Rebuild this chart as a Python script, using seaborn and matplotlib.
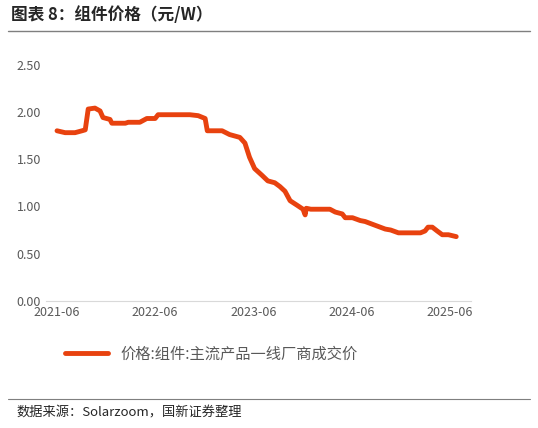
import pandas as pd
import matplotlib
matplotlib.use("Agg")
import matplotlib.pyplot as plt
import seaborn as sns

sns.set_style("white")
plt.rcParams['font.family'] = ['Noto Sans CJK SC', 'DejaVu Sans']

# 组件价格 (元/W)
dates = ["2021-06-01", "2021-07-01", "2021-08-07", "2021-09-02", "2021-09-14", "2021-09-25",
         "2021-10-20", "2021-11-08", "2021-11-19", "2021-12-15", "2021-12-22", "2022-02-10",
         "2022-02-21", "2022-04-05", "2022-05-01", "2022-06-01", "2022-06-12", "2022-10-08",
         "2022-11-08", "2022-12-04", "2022-12-12", "2023-02-05", "2023-03-05", "2023-04-12",
         "2023-05-01", "2023-05-18", "2023-06-06", "2023-07-03", "2023-07-25", "2023-08-20",
         "2023-09-08", "2023-09-27", "2023-10-16", "2023-11-12", "2023-12-03", "2023-12-11",
         "2023-12-15", "2024-01-01", "2024-03-12", "2024-04-01", "2024-04-27", "2024-05-08",
         "2024-06-04", "2024-07-03", "2024-07-21", "2024-08-18", "2024-10-04", "2024-10-24",
         "2024-11-22", "2025-02-12", "2025-03-01", "2025-03-12", "2025-03-28", "2025-04-15",
         "2025-05-04", "2025-05-27", "2025-06-25"]
price = [1.80, 1.78, 1.78, 1.80, 1.81, 2.03,
         2.04, 2.01, 1.94, 1.92, 1.88, 1.88,
         1.89, 1.89, 1.93, 1.93, 1.97, 1.97,
         1.96, 1.93, 1.80, 1.80, 1.76, 1.73,
         1.67, 1.52, 1.40, 1.33, 1.27, 1.25,
         1.21, 1.16, 1.06, 1.01, 0.97, 0.91,
         0.98, 0.97, 0.97, 0.94, 0.92, 0.88,
         0.88, 0.85, 0.84, 0.81, 0.76, 0.75,
         0.72, 0.72, 0.74, 0.78, 0.78, 0.74,
         0.70, 0.70, 0.68]
serie = "价格:组件:主流产品一线厂商成交价"

df = pd.DataFrame({"fecha": pd.to_datetime(dates), "precio": price})

fig = plt.figure(figsize=(5.38, 4.28), dpi=100)
ax = fig.add_axes([0.085, 0.297, 0.79, 0.552])
sns.lineplot(data=df, x="fecha", y="precio", ax=ax, color="#E8420F", linewidth=3.5, label=serie)

ax.set_ylim(0, 2.5)
ax.set_yticks([0, 0.5, 1.0, 1.5, 2.0, 2.5])
ax.set_yticklabels([f"{v:.2f}" for v in ax.get_yticks()])
ticks = pd.to_datetime(["2021-06-01", "2022-06-01", "2023-06-01", "2024-06-01", "2025-06-01"])
ax.set_xticks(ticks)
ax.set_xticklabels([t.strftime("%Y-%m") for t in ticks])
ax.set_xlim(pd.Timestamp("2021-04-20"), pd.Timestamp("2025-08-18"))
ax.set_xlabel("")
ax.set_ylabel("")
ax.tick_params(axis="both", labelsize=9, colors="#595959", length=0)
ax.spines[['top', 'right', 'left']].set_visible(False)
ax.spines['bottom'].set_color("#D9D9D9")
ax.legend(loc="upper center", bbox_to_anchor=(0.39, -0.13), frameon=False,
          fontsize=11, handlelength=2.8, labelcolor="#595959")

fig.text(0.02, 0.965, "图表 8：组件价格（元/W）", fontsize=12, fontweight="bold", va="center")
fig.add_artist(plt.Line2D([0.015, 0.985], [0.928, 0.928], color="#7F7F7F", linewidth=1))
fig.add_artist(plt.Line2D([0.015, 0.985], [0.068, 0.068], color="#7F7F7F", linewidth=0.8))
fig.text(0.03, 0.035, "数据来源：Solarzoom，国新证券整理", fontsize=9.5, va="center")

plt.savefig("out.png", dpi=100)
